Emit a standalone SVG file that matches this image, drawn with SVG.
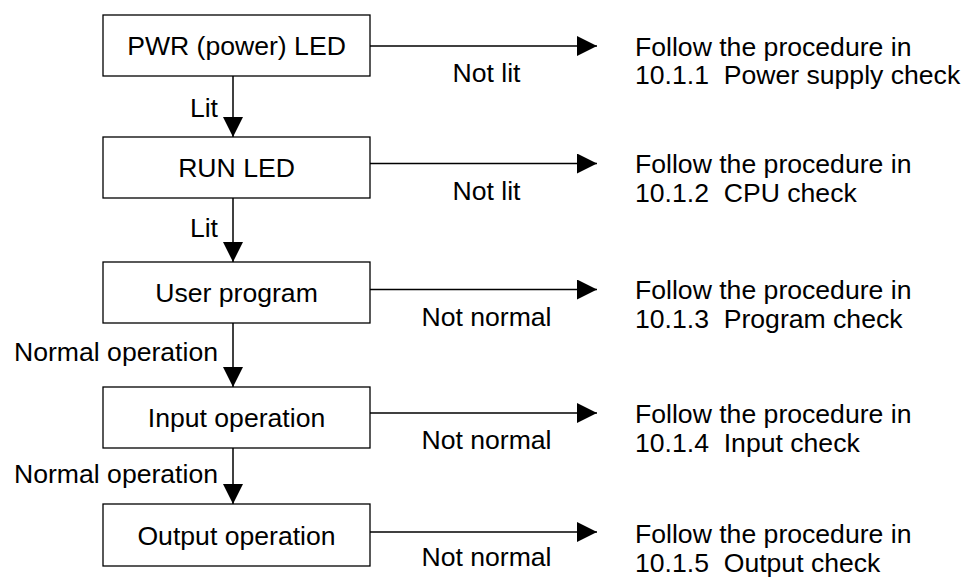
<svg xmlns="http://www.w3.org/2000/svg" width="966" height="579" viewBox="0 0 966 579">
<style>
  text { font-family: "Liberation Sans", Arial, sans-serif; font-size: 26.6px; fill: #000; white-space: pre; }
  .box { fill: #fff; stroke: #000; stroke-width: 1.3; }
  .c { text-anchor: middle; }
  .e { text-anchor: end; }
  .conn { stroke: #000; stroke-width: 1.5; fill: none; marker-end: url(#ah); }
</style>
<defs>
  <marker id="ah" markerUnits="userSpaceOnUse" markerWidth="20" markerHeight="20" refX="20" refY="10" orient="auto">
    <path d="M0,0 L20,10 L0,20 z" fill="#000"/>
  </marker>
</defs>
<rect width="966" height="579" fill="#fff"/>

<g id="connectors">
  <line class="conn" x1="370" y1="46" x2="597" y2="46"/>
  <line class="conn" x1="370" y1="163.5" x2="597" y2="163.5"/>
  <line class="conn" x1="370" y1="289.5" x2="597" y2="289.5"/>
  <line class="conn" x1="370" y1="413" x2="597" y2="413"/>
  <line class="conn" x1="370" y1="532" x2="597" y2="532"/>
  <line class="conn" x1="233" y1="76" x2="233" y2="137"/>
  <line class="conn" x1="233" y1="198" x2="233" y2="262"/>
  <line class="conn" x1="233" y1="323" x2="233" y2="387"/>
  <line class="conn" x1="233" y1="448" x2="233" y2="504"/>
  <text x="486.5" y="82" class="c">Not lit</text>
  <text x="486.5" y="199.5" class="c">Not lit</text>
  <text x="486.5" y="325.5" class="c">Not normal</text>
  <text x="486.5" y="449" class="c">Not normal</text>
  <text x="486.5" y="566" class="c">Not normal</text>
  <text x="218" y="116.5" class="e">Lit</text>
  <text x="218" y="236.5" class="e">Lit</text>
  <text x="218" y="361" class="e">Normal operation</text>
  <text x="218" y="483" class="e">Normal operation</text>
</g>

<g id="pwr">
  <rect class="box" x="103" y="15" width="267" height="61"/>
  <text x="236.5" y="55" class="c">PWR (power) LED</text>
</g>
<g id="run">
  <rect class="box" x="103" y="137" width="267" height="61"/>
  <text x="236.5" y="177" class="c">RUN LED</text>
</g>
<g id="userprog">
  <rect class="box" x="103" y="262" width="267" height="61"/>
  <text x="236.5" y="302" class="c">User program</text>
</g>
<g id="input">
  <rect class="box" x="103" y="387" width="267" height="61"/>
  <text x="236.5" y="427" class="c">Input operation</text>
</g>
<g id="output">
  <rect class="box" x="103" y="504" width="267" height="62"/>
  <text x="236.5" y="544.5" class="c">Output operation</text>
</g>

<g id="proc1">
  <text x="635" y="56">Follow the procedure in</text>
  <text x="635" y="84">10.1.1  Power supply check</text>
</g>
<g id="proc2">
  <text x="635" y="173">Follow the procedure in</text>
  <text x="635" y="202">10.1.2  CPU check</text>
</g>
<g id="proc3">
  <text x="635" y="299">Follow the procedure in</text>
  <text x="635" y="328">10.1.3  Program check</text>
</g>
<g id="proc4">
  <text x="635" y="423">Follow the procedure in</text>
  <text x="635" y="452">10.1.4  Input check</text>
</g>
<g id="proc5">
  <text x="635" y="543">Follow the procedure in</text>
  <text x="635" y="572">10.1.5  Output check</text>
</g>
</svg>
